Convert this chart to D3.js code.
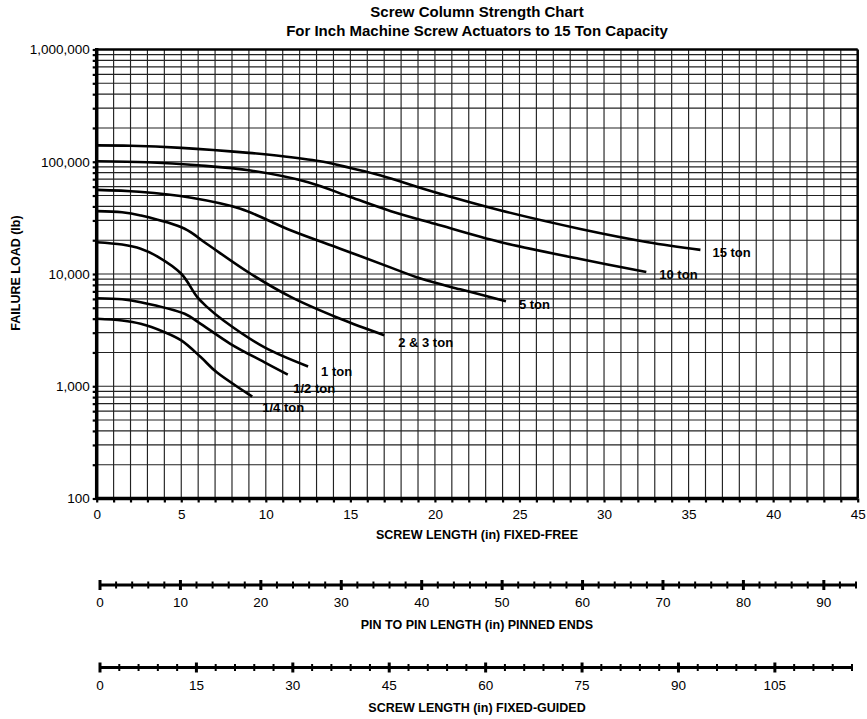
<!DOCTYPE html>
<html>
<head>
<meta charset="utf-8">
<script src="https://cdn.jsdelivr.net/npm/d3@7"></script>
<style>
    html, body { margin: 0; padding: 0; background: #fff; }
    text { font-family: "Liberation Sans", Arial, sans-serif; fill: #000; }
    .bold { font-weight: bold; }
</style>
</head>
<body>
<svg id="chart" width="867" height="719"></svg>
<script>
// Fixed-free screw length (in) vs failure load (lb), one pair of arrays per curve
const len15 = [0, 2, 5, 9, 11, 13.4, 15, 16.8, 20, 23.9, 28.6, 32.6, 35.7];
const load15 = [140000, 139000, 133000, 120000, 112000, 100000, 88000, 75500, 53500, 36800, 25200, 19200, 16400];

const len10 = [0, 3, 6, 9.1, 12.5, 15, 17.4, 20, 23.9, 28.6, 32.5];
const load10 = [101000, 99000, 93000, 83600, 65800, 48500, 36300, 28000, 19200, 13600, 10400];

const len5 = [0, 2.5, 5.6, 8.5, 11.5, 14.4, 17.4, 19.2, 21.5, 24.2];
const load5 = [56200, 54000, 47700, 38100, 24400, 16800, 11400, 9060, 7300, 5730];

const len23 = [0, 1.5, 2.6, 5.2, 6.5, 9.1, 11.5, 14.4, 17];
const load23 = [36300, 35500, 33200, 25300, 18600, 10050, 6220, 3990, 2850];

const len1 = [0, 1.5, 2.6, 3.6, 5, 5.95, 6.5, 7.5, 9.9, 12.5];
const load1 = [19200, 18300, 16800, 14300, 10050, 6220, 5120, 3850, 2230, 1500];

const lenHalf = [0, 1.5, 2.6, 5.2, 6.15, 7.9, 9.9, 11.3];
const loadHalf = [6090, 5950, 5610, 4420, 3600, 2390, 1640, 1270];

const lenQuarter = [0, 1.5, 2.6, 3.95, 5, 6.15, 7.1, 9.2];
const loadQuarter = [3990, 3850, 3600, 3060, 2560, 1820, 1330, 810];

const seriesNames = ['15 ton', '10 ton', '5 ton', '2 & 3 ton', '1 ton', '1/2 ton', '1/4 ton'];
const seriesLens = [len15, len10, len5, len23, len1, lenHalf, lenQuarter];
const seriesLoads = [load15, load10, load5, load23, load1, loadHalf, loadQuarter];
const labelOffsets = [[12, 7], [13, 7], [13, 8], [14, 11.5], [13, 9.5], [5.5, 18], [10, 15.5]];

const yTickValues = [100, 1000, 10000, 100000, 1000000];
const xTickValues = d3.range(0, 46, 5);
const pinTickLabels = d3.range(0, 91, 10);
const guidedTickLabels = d3.range(0, 106, 15);

const svg = d3.select('#chart');

const x = d3.scaleLinear().domain([0, 45]).range([96.7, 857.7]);
const y = d3.scaleLog().domain([100, 1000000]).range([498.5, 49.5]);

// minor values 100..1,000,000 (2-9 in each decade)
const yGridValues = [];
d3.range(2, 6).forEach(p => d3.range(1, 10).forEach(m => yGridValues.push(m * Math.pow(10, p))));
yGridValues.push(1000000);

const grid = svg.append('g').attr('stroke', '#222').attr('stroke-width', 1.15);

grid.selectAll('line.v')
    .data(d3.range(1, 45))
    .join('line')
        .attr('class', 'v')
        .attr('x1', d => x(d)).attr('x2', d => x(d))
        .attr('y1', y(1000000)).attr('y2', y(100));

grid.selectAll('line.h')
    .data(yGridValues)
    .join('line')
        .attr('class', 'h')
        .attr('x1', x(0)).attr('x2', x(45))
        .attr('y1', d => y(d)).attr('y2', d => y(d));

// left axis ticks and labels
const yAxis = svg.append('g')
    .attr('transform', `translate(${x(0)},0)`)
    .call(d3.axisLeft(y).tickValues(yGridValues).tickSize(4).tickFormat(d => yTickValues.includes(d) ? d3.format(',')(d) : ''));
yAxis.select('.domain').remove();
yAxis.selectAll('.tick line').attr('stroke', '#000').attr('stroke-width', 2.2);
yAxis.selectAll('.tick text')
    .attr('x', -7)
    .style('font-size', '13.5px')
    .style('font-family', '"Liberation Sans", Arial, sans-serif');

// bottom axis
const xAxis = svg.append('g')
    .attr('transform', `translate(0,${y(100)})`)
    .call(d3.axisBottom(x).tickValues(d3.range(0, 46)).tickSize(4).tickFormat(d => xTickValues.includes(d) ? d : ''));
xAxis.select('.domain').remove();
xAxis.selectAll('.tick line').attr('stroke', '#000').attr('stroke-width', 2.2);
xAxis.selectAll('.tick text')
    .attr('y', 11)
    .style('font-size', '13.5px')
    .style('font-family', '"Liberation Sans", Arial, sans-serif');

// frame
const frame = svg.append('g').attr('stroke', '#000').attr('fill', 'none');
frame.append('line').attr('x1', x(0)).attr('x2', x(45)).attr('y1', y(1000000)).attr('y2', y(1000000)).attr('stroke-width', 2.5);
frame.append('line').attr('x1', x(45)).attr('x2', x(45)).attr('y1', y(1000000)).attr('y2', y(100)).attr('stroke-width', 2.5);
frame.append('line').attr('x1', x(0)).attr('x2', x(0)).attr('y1', y(1000000) - 1.5).attr('y2', y(100) + 1.5).attr('stroke-width', 3.5);
frame.append('line').attr('x1', x(0)).attr('x2', x(45)).attr('y1', y(100)).attr('y2', y(100)).attr('stroke-width', 3.5);

// curves
const line = d3.line()
    .x(d => x(d[0]))
    .y(d => y(d[1]))
    .curve(d3.curveCatmullRom.alpha(0.5));

const series = seriesNames.map((name, i) => ({
    name,
    points: seriesLens[i].map((l, j) => [l, seriesLoads[i][j]]),
    offset: labelOffsets[i]
}));

svg.append('g').selectAll('path')
    .data(series)
    .join('path')
        .attr('d', d => line(d.points))
        .attr('fill', 'none')
        .attr('stroke', '#000')
        .attr('stroke-width', 2.6);

svg.append('g').selectAll('text')
    .data(series)
    .join('text')
        .attr('class', 'bold')
        .attr('x', d => x(d.points[d.points.length - 1][0]) + d.offset[0])
        .attr('y', d => y(d.points[d.points.length - 1][1]) + d.offset[1])
        .style('font-size', '13px')
        .text(d => d.name);

// titles
svg.append('text').attr('class', 'bold')
    .attr('x', 477).attr('y', 17).attr('text-anchor', 'middle')
    .style('font-size', '15px')
    .text('Screw Column Strength Chart');
svg.append('text').attr('class', 'bold')
    .attr('x', 477).attr('y', 36).attr('text-anchor', 'middle')
    .style('font-size', '15px')
    .text('For Inch Machine Screw Actuators to 15 Ton Capacity');

svg.append('text').attr('class', 'bold')
    .attr('transform', `translate(20,${y(10000) - 1}) rotate(-90)`)
    .attr('text-anchor', 'middle')
    .style('font-size', '12.5px')
    .text('FAILURE LOAD (lb)');

svg.append('text').attr('class', 'bold')
    .attr('x', 477).attr('y', 539).attr('text-anchor', 'middle')
    .style('font-size', '12.5px')
    .text('SCREW LENGTH (in) FIXED-FREE');

// equivalent-length scales below the plot
function lengthScale(yPos, max, right, step, labels, title) {
    const s = d3.scaleLinear().domain([0, max]).range([100, right]);
    const g = svg.append('g').attr('transform', `translate(0,${yPos})`);

    g.append('line')
        .attr('x1', s(0)).attr('x2', s(max))
        .attr('stroke', '#000').attr('stroke-width', 3);

    g.selectAll('line.t')
        .data(d3.range(0, max + 0.01, step))
        .join('line')
            .attr('class', 't')
            .attr('x1', d => s(d)).attr('x2', d => s(d))
            .attr('y1', d => labels.includes(d) ? -5 : -3.5)
            .attr('y2', d => labels.includes(d) ? 5 : 3.5)
            .attr('stroke', '#000')
            .attr('stroke-width', d => labels.includes(d) ? 3 : 2);

    g.selectAll('text.l')
        .data(labels)
        .join('text')
            .attr('class', 'l')
            .attr('x', d => s(d)).attr('y', 22)
            .attr('text-anchor', 'middle')
            .style('font-size', '13.5px')
            .text(d => d);

    g.append('text').attr('class', 'bold')
        .attr('x', 477).attr('y', 44)
        .attr('text-anchor', 'middle')
        .style('font-size', '12.5px')
        .text(title);
}

lengthScale(585, 94, 856, 2, pinTickLabels, 'PIN TO PIN LENGTH (in) PINNED ENDS');
lengthScale(667.5, 117, 852, 3, guidedTickLabels, 'SCREW LENGTH (in) FIXED-GUIDED');
</script>
</body>
</html>
